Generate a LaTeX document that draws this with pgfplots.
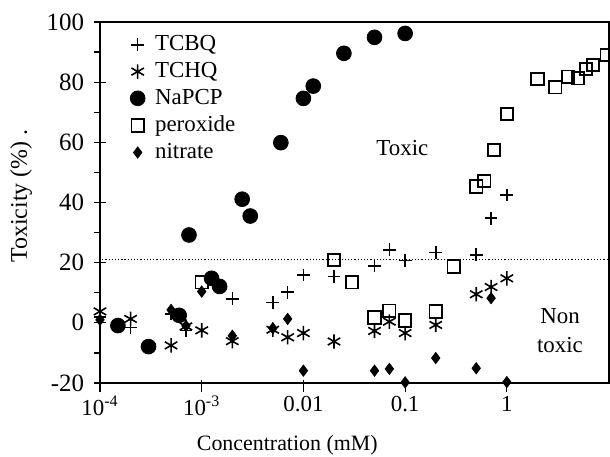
\documentclass[border=0pt]{standalone}
\usepackage{pgfplots}
\pgfplotsset{compat=1.18}
\usepackage{fontspec}
\setmainfont{Liberation Serif}
\begin{document}
\begin{tikzpicture}
\begin{axis}[
  name=ax,
  scale only axis, width=254.5bp, height=180.5bp,
  xmode=log, xmin=1e-4, xmax=10.1, ymin=-20, ymax=100,
  xtick={1e-4,1e-3,0.01,0.1,1},
  xticklabels={10\textsuperscript{-4},10\textsuperscript{-3},0.01,0.1,1},
  ytick={-20,0,20,40,60,80,100},
  minor ytick={-10,10,30,50,70,90},
  xminorticks=false,
  xtick pos=left, ytick pos=left,
  tick align=center,
  major tick length=6bp, minor tick length=3bp,
  every minor y tick/.append style={xshift=-1.5bp},
  every major x tick/.append style={yshift=-1.5bp},
  tick style={black, line width=0.6bp},
  axis line style={line width=0.7bp},
  clip=false,
  /pgf/number format/assume math mode=true,
  xticklabel style={font=\fontsize{11.5}{13}\selectfont},
  yticklabel style={font=\fontsize{12.5}{14}\selectfont, xshift=-1.5bp},
  xlabel={Concentration (mM)},
  ylabel={Toxicity (\%) .},
  xlabel style={font=\fontsize{11}{13}\selectfont, at={(axis description cs:0.368,-0.172)}, anchor=center},
  ylabel style={font=\fontsize{12}{14}\selectfont, at={(axis description cs:-0.155,0.518)}, anchor=center},
  legend cell align=left,
  legend style={draw=none, fill=none, at={(axis description cs:0.047,0.985)}, anchor=north west,
    font=\fontsize{11.5}{13}\selectfont, row sep=0.3bp,
    /tikz/every odd column/.append style={column sep=3bp}},
]
\addplot[only marks, mark=+, mark size=3.2bp, line width=0.8bp, black] coordinates {
(1e-4,2) (2e-4,-1.5) (5e-4,3) (7e-4,-2.5) (2e-3,8) (5e-3,6.7) (7e-3,10.2) (0.01,15.9) (0.02,15.4) (0.05,18.9) (0.07,24.3) (0.1,20.7) (0.2,23.4) (0.5,22.6) (0.7,34.8) (1,42.5)};
\addlegendentry{TCBQ}
\addplot[only marks, mark=asterisk, mark size=3.6bp, line width=0.8bp, black] coordinates {
(1e-4,3.8) (2e-4,1.3) (5e-4,-7.5) (7e-4,-1.2) (1e-3,-2.5) (2e-3,-6.1) (5e-3,-2.3) (7e-3,-4.8) (0.01,-3.4) (0.02,-6.2) (0.05,-2.7) (0.07,0.4) (0.1,-3.4) (0.2,-0.7) (0.5,9.5) (0.7,11.9) (1,14.8)};
\addlegendentry{TCHQ}
\addplot[only marks, mark=*, mark size=3.7bp, black] coordinates {
(1.5e-4,-0.9) (3e-4,-7.9) (6e-4,2.5) (7.5e-4,29.2) (1.25e-3,14.8) (1.5e-3,12.1) (2.5e-3,41.1) (3e-3,35.5) (6e-3,59.9) (0.01,74.6) (0.0125,78.7) (0.025,89.6) (0.05,94.9) (0.1,96.2)};
\addlegendentry{NaPCP}
\addplot[only marks, mark=square, mark size=3.1bp, line width=0.9bp, black] coordinates {
(1e-3,13.5) (0.02,20.9) (0.03,13.5) (0.05,1.8) (0.07,4.0) (0.1,0.8) (0.2,3.8) (0.3,18.7) (0.5,45.3) (0.6,47.2) (0.75,57.5) (1,69.4) (2,81.0) (3,78.3) (4,81.8) (5,81.3) (6,84.4) (7,85.7) (9.6,89.0)};
\addlegendentry{peroxide}
\addplot[only marks, mark=diamond*, mark size=2.8bp, black] coordinates {
(1e-4,1.0) (5e-4,4.3) (7e-4,-1) (1e-3,10.4) (2e-3,-4.3) (5e-3,-1.8) (7e-3,1.3) (0.01,-15.9) (0.05,-15.9) (0.07,-15.3) (0.1,-19.8) (0.2,-11.7) (0.5,-15.1) (0.7,8.2) (1,-19.7)};
\addlegendentry{nitrate}
\addplot[densely dotted, line width=0.6bp, black, forget plot] coordinates {(1.05e-4,21) (10.1,21)};
\node[font=\fontsize{11.5}{13}\selectfont] at (axis cs:0.094,58) {Toxic};
\node[font=\fontsize{11.5}{15}\selectfont, align=center] at (axis cs:3.33,-2.6) {Non\\toxic};
\draw[line width=0.7bp] (rel axis cs:1,0) -- ++(0,-3.5bp);
\end{axis}
\pgfresetboundingbox
\path[use as bounding box] ([xshift=-50bp,yshift=-37bp]ax.south west) rectangle ([xshift=0.5bp,yshift=11bp]ax.north east);
\end{tikzpicture}
\end{document}
